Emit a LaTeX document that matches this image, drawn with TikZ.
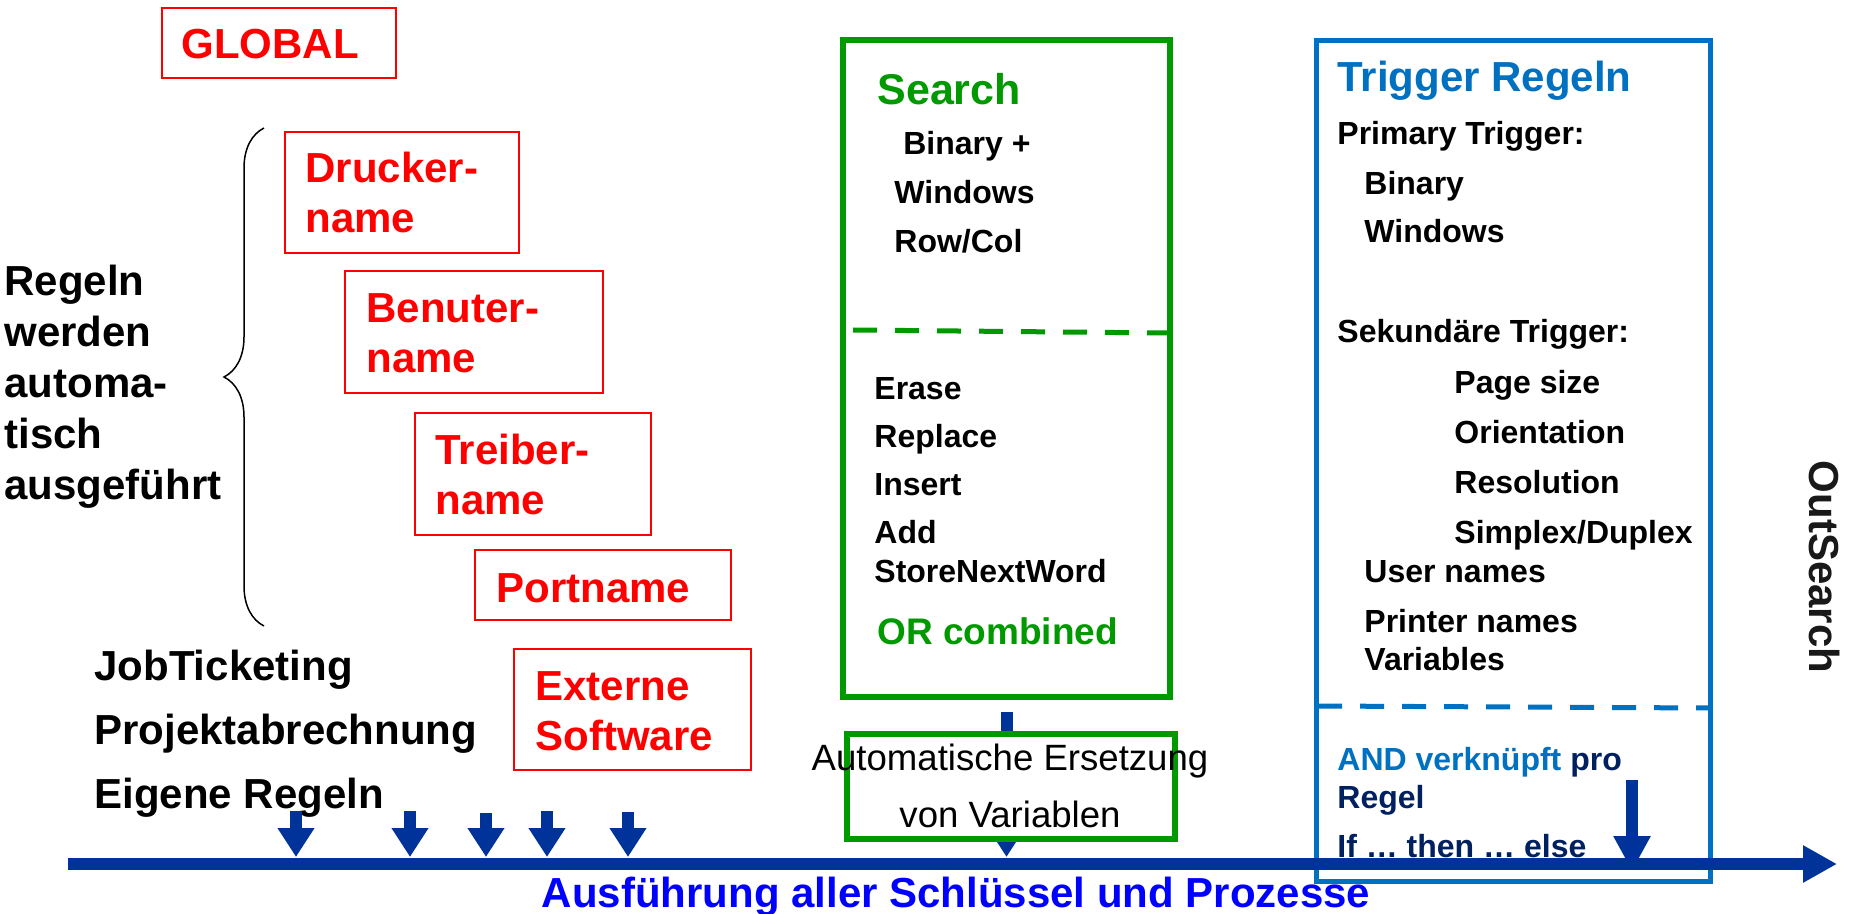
\documentclass[tikz,border=0pt]{standalone}
\usepackage{fontspec}
\setmainfont{Liberation Sans}
\usetikzlibrary{arrows.meta, positioning, decorations.pathreplacing}
\definecolor{rulered}{RGB}{255,0,0}
\definecolor{searchgreen}{RGB}{0,153,0}
\definecolor{triggerblue}{RGB}{0,112,192}
\definecolor{timenavy}{RGB}{0,51,153}
\definecolor{textnavy}{RGB}{0,32,96}
\definecolor{runblue}{RGB}{0,0,255}

\tikzset{
  txt/.style={anchor=base west, inner sep=0pt, align=left, font=\bfseries\fontsize{16}{24}\selectfont},
  bigtxt/.style={txt, font=\bfseries\fontsize{21}{25}\selectfont},
  redtxt/.style={bigtxt, text=rulered},
  redbox/.style={draw=rulered, line width=1pt, anchor=north west, inner sep=0pt, outer sep=0pt},
  greenbox/.style={draw=searchgreen, line width=2.9pt, anchor=north west, inner sep=0pt, outer sep=0pt},
  keyarrow/.style={draw=timenavy, line width=6pt, -{Triangle[length=14.5pt, width=17.5pt]}}
}

\begin{document}
\begin{tikzpicture}[x=0.5pt, y=-0.5pt]
\useasboundingbox (0,0) rectangle (1856,914);

% Rule boxes (multi-line texts sit on their last baseline)
\node[redbox, minimum width=117pt, minimum height=35pt] (globalbox) at (162,8) {};
\node[redtxt] (global) at (181,59) {GLOBAL};
\node[redbox, minimum width=117pt, minimum height=60.5pt] (druckerbox) at (285,132) {};
\node[redtxt] (drucker) at (305,233) {Drucker-\\name};
\node[redbox, minimum width=129pt, minimum height=61pt] (benutzerbox) at (345,271) {};
\node[redtxt] (benutzer) at (366,372) {Benuter-\\name};
\node[redbox, minimum width=118pt, minimum height=61pt] (treiberbox) at (415,413) {};
\node[redtxt] (treiber) at (435,514) {Treiber-\\name};
\node[redbox, minimum width=128pt, minimum height=35pt] (portbox) at (475,550) {};
\node[redtxt] (port) at (496,602) {Portname};
\node[redbox, minimum width=118.5pt, minimum height=60.5pt] (externbox) at (514,649) {};
\node[redtxt] (extern) at (535,750) {Externe\\Software};

% Left side
\draw[line width=0.75pt, decorate, decoration={brace, amplitude=20pt}] (264,626) -- (264,128);
\node[bigtxt, font=\bfseries\fontsize{21}{25.5}\selectfont] (regeln) at (4,499) {Regeln\\werden\\automa-\\tisch\\ausgeführt};
\node[bigtxt, font=\bfseries\fontsize{21}{32}\selectfont] (eigene) at (94,808) {JobTicketing\\Projektabrechnung\\Eigene Regeln};

% Search
\node[greenbox, minimum width=163.5pt, minimum height=328.5pt] (search) at (843,40) {};
\draw[searchgreen, line width=2.5pt, dash pattern=on 12pt off 9pt] (853,330) -- (1167,333);
\node[bigtxt, text=searchgreen, font=\bfseries\fontsize{21.5}{25}\selectfont] (searchhead) at (877,105) {Search};
\node[txt, font=\bfseries\fontsize{16}{24.5}\selectfont] (searchkeys) at (894,253) {~Binary +\\Windows\\Row/Col};
\node[txt] (searchops) at (874,582) {Erase\\Replace\\Insert\\Add\\[-4.5pt]StoreNextWord};
\node[txt, text=searchgreen, font=\bfseries\fontsize{18.5}{22}\selectfont] (orcomb) at (877,644) {OR combined};

% Timeline
\coordinate (tlstart) at (68,864);
\coordinate (tlend) at (1837,864);
\coordinate (tltop) at (0,857);
\draw[keyarrow] ([yshift=-7.5pt]search.south) -- (search.south |- tltop);
\node[greenbox, fill=white, minimum width=164pt, minimum height=52.5pt] (ersetzbox) at (847,734) {};
\node[anchor=base, align=center, inner sep=0pt, font=\fontsize{18.3}{28.5}\selectfont] (ersetz) at (1010,827) {Automatische Ersetzung\\von Variablen};

% Trigger rules
\node[draw=triggerblue, line width=2.5pt, anchor=north west, inner sep=0pt, outer sep=0pt, minimum width=197pt, minimum height=420pt] (trigger) at (1316,41) {};
\draw[triggerblue, line width=2.5pt, dash pattern=on 12pt off 9pt] (1318,706) -- (1710,708);
\node[bigtxt, text=triggerblue] (trighead) at (1337,92) {Trigger Regeln};
\node[txt] (primary) at (1337,145) {Primary Trigger:};
\node[txt] (primlist) at (1364,243) {Binary\\Windows};
\node[txt] (second) at (1337,343) {Sekundäre Trigger:};
\node[txt, font=\bfseries\fontsize{16}{25}\selectfont] (seclist) at (1454,543) {Page size\\Orientation\\Resolution\\Simplex/Duplex};
\node[txt, font=\bfseries\fontsize{16}{25}\selectfont] (names) at (1364,670) {User names\\Printer names\\[-6pt]Variables};
\node[txt, text=textnavy, font=\bfseries\fontsize{16}{25}\selectfont] (andrule) at (1337,857) {\textcolor{triggerblue}{AND verknüpft} pro\\[-6pt]Regel\\[-0.5pt]If … then … else};

\draw[draw=timenavy, line width=6pt, -{Triangle[length=17pt, width=17.5pt]}] (tlstart) -- (tlend);
\coordinate (key1) at (296,811);
\coordinate (key2) at (410,811);
\coordinate (key3) at (486,813);
\coordinate (key4) at (547,811);
\coordinate (key5) at (628,812);
\draw[keyarrow] (key1) -- (key1 |- tltop);
\draw[keyarrow] (key2) -- (key2 |- tltop);
\draw[keyarrow] (key3) -- (key3 |- tltop);
\draw[keyarrow] (key4) -- (key4 |- tltop);
\draw[keyarrow] (key5) -- (key5 |- tltop);
\coordinate (trigkey) at (1632,780);
\coordinate (trigtip) at (1632,871);
\draw[keyarrow, -{Triangle[length=17.5pt, width=17.5pt]}] (trigkey) -- (trigtip);

% Labels
\node[bigtxt, anchor=base, text=runblue] (run) at (956,907) {Ausführung aller Schlüssel und Prozesse};
\node[bigtxt, anchor=base, rotate=-90, text=black!90] (outsearch) at (1809,567) {OutSearch};
\end{tikzpicture}
\end{document}
